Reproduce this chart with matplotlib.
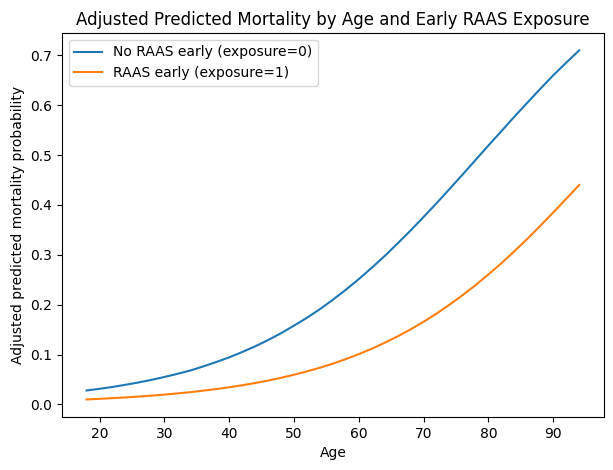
import matplotlib
matplotlib.use("Agg")
import matplotlib.pyplot as plt

# predicted mortality, every 2 years of age
ages = list(range(18, 95, 2))
no_raas = [0.0280, 0.0313, 0.0350, 0.0394, 0.0440, 0.0492, 0.0550, 0.0613, 0.0680, 0.0762,
           0.0850, 0.0944, 0.1050, 0.1164, 0.1290, 0.1427, 0.1580, 0.1737, 0.1910, 0.2099,
           0.2300, 0.2513, 0.2740, 0.2977, 0.3230, 0.3489, 0.3760, 0.4035, 0.4320, 0.4608,
           0.4900, 0.5193, 0.5480, 0.5770, 0.6050, 0.6328, 0.6600, 0.6853, 0.7100]
raas = [0.0100, 0.0112, 0.0126, 0.0140, 0.0157, 0.0176, 0.0197, 0.0220, 0.0246, 0.0276,
        0.0308, 0.0344, 0.0384, 0.0429, 0.0478, 0.0534, 0.0595, 0.0662, 0.0736, 0.0818,
        0.0909, 0.1008, 0.1116, 0.1236, 0.1365, 0.1506, 0.1658, 0.1822, 0.2000, 0.2190,
        0.2390, 0.2608, 0.2830, 0.3072, 0.3320, 0.3580, 0.3850, 0.4122, 0.4400]

fig, ax = plt.subplots(figsize=(6.13, 4.7), dpi=100)
fig.subplots_adjust(left=0.101, right=0.985, bottom=0.113, top=0.93)
ax.plot(ages, no_raas, label='No RAAS early (exposure=0)')
ax.plot(ages, raas, label='RAAS early (exposure=1)')
ax.set_title('Adjusted Predicted Mortality by Age and Early RAAS Exposure')
ax.set_xlabel('Age')
ax.set_ylabel('Adjusted predicted mortality probability')
ax.legend(loc='upper left')
plt.savefig('out.png', dpi=100)
